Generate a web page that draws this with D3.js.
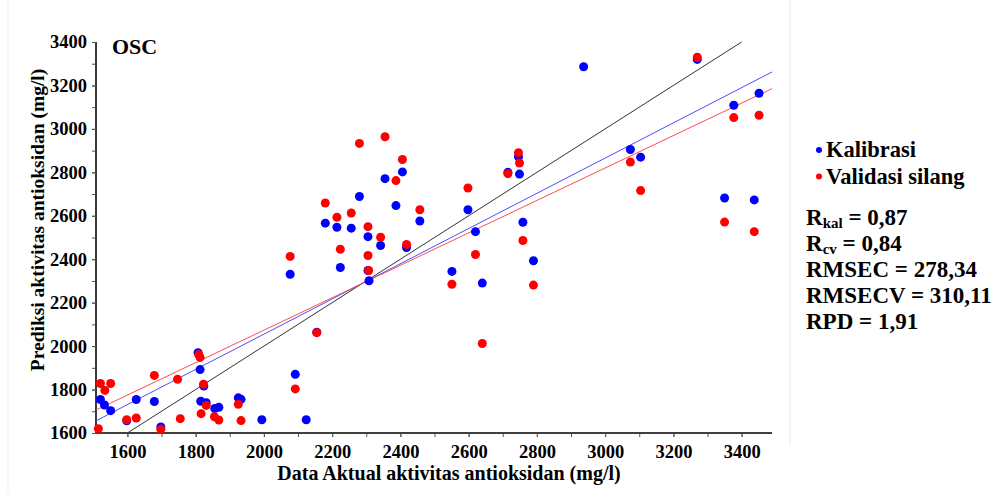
<!DOCTYPE html>
<html><head><meta charset="utf-8">
<script src="https://cdn.jsdelivr.net/npm/d3@7"></script>
<style>body{margin:0;background:#fff;}svg text{font-family:"Liberation Serif","Times New Roman",serif;font-weight:bold;fill:#000;}</style>
</head><body>
<svg id="c" width="995" height="493"></svg>
<script>
// Calibration (Kalibrasi) points: actual, predicted
const calActual = [1521,1533,1551,1598,1626,1679,1698,1807,1813,1824,1815,1831,1856,1868,1925,1933,1994,2124,2092,2077,2155,2180,2214,2256,2224,2280,2305,2305,2308,2342,2355,2387,2406,2418,2457,2551,2598,2620,2640,2715,2746,2749,2759,2790,2937,3270,3074,3104,3377,3451,3350,3437];
const calPred   = [1754,1729,1703,1656,1754,1745,1628,1970,1892,1816,1746,1739,1713,1718,1762,1755,1661,1661,1870,2331,2064,2566,2547,2543,2362,2689,2504,2348,2301,2463,2771,2647,2802,2454,2576,2344,2628,2527,2290,2800,2872,2792,2570,2393,3286,3320,2905,2870,3109,3164,2682,2673];
// Cross validation (Validasi silang) points
const cvActual = [1515,1521,1534,1551,1598,1626,1679,1698,1747,1755,1809,1813,1823,1831,1816,1855,1868,1925,1933,2077,2092,2155,2180,2214,2256,2224,2280,2305,2305,2307,2342,2355,2387,2406,2418,2457,2551,2598,2620,2640,2715,2746,2749,2759,2790,3074,3104,3270,3377,3451,3350,3437];
const cvPred   = [1620,1828,1796,1828,1661,1669,1865,1617,1847,1666,1961,1948,1825,1727,1689,1675,1660,1732,1657,2413,1803,2062,2659,2593,2613,2446,2933,2550,2417,2348,2501,2964,2762,2859,2468,2628,2285,2728,2422,2012,2794,2890,2843,2486,2281,2847,2716,3330,3052,3063,2571,2527];
// Regression lines: [x start, y start, x end, y end]
const lineNames = ["ideal","kal","cv"];
const lineX0 = [1600, 1508, 1508];
const lineY0 = [1600, 1656, 1706];
const lineX1 = [3400, 3489, 3489];
const lineY1 = [3400, 3262, 3185];
const tickValues = [1600,1800,2000,2200,2400,2600,2800,3000,3200,3400];
const minorTicks = d3.range(1600, 3401, 100);
const legendLabels = ["Kalibrasi","Validasi silang"];
const statNames = ["R","R","RMSEC","RMSECV","RPD"];
const statSubs = ["kal","cv","","",""];
const statValues = ["0,87","0,84","278,34","310,11","1,91"];

const svg = d3.select("#c");
const x = d3.scaleLinear().domain([1508, 3489]).range([96, 772]);
const y = d3.scaleLinear().domain([1600, 3400]).range([433, 42]);

// faint picture borders
svg.append("line").attr("x1",8).attr("x2",8).attr("y1",0).attr("y2",493).attr("stroke","#ececec");
svg.append("line").attr("x1",790).attr("x2",790).attr("y1",0).attr("y2",445).attr("stroke","#ececec");

// axes
const xMinor = svg.append("g").attr("transform","translate(0,433)")
  .call(d3.axisBottom(x).tickValues(minorTicks).tickSize(4).tickFormat(""));
const xAxis = svg.append("g").attr("transform","translate(0,433)")
  .call(d3.axisBottom(x).tickValues(tickValues).tickSize(4).tickFormat(d3.format("d")));
const yMinor = svg.append("g").attr("transform","translate(96,0)")
  .call(d3.axisLeft(y).tickValues(minorTicks).tickSize(4).tickFormat(""));
const yAxis = svg.append("g").attr("transform","translate(96,0)")
  .call(d3.axisLeft(y).tickValues(tickValues).tickSize(4).tickPadding(5).tickFormat(d3.format("d")));
[xMinor,xAxis,yMinor,yAxis].forEach(g=>{
  g.attr("font-family",null);
  g.select(".domain").attr("stroke","#333").attr("stroke-width",1.6);
  g.selectAll(".tick line").attr("stroke","#555");
  g.selectAll("text").attr("font-size",18.5).attr("font-weight","bold").attr("fill","#000");
});
xAxis.selectAll("text").attr("y",25).attr("dy",0);
[xMinor,xAxis].forEach(g=>g.select(".domain").attr("d","M96,0H772"));
[yMinor,yAxis].forEach(g=>g.select(".domain").attr("d","M0,42V433"));

// lines
const lineColors = ["#333","#4d4dff","#ff4d4d"];
svg.selectAll("line.fit").data(lineNames).enter().append("line").attr("class","fit")
  .attr("x1",(d,i)=>x(lineX0[i])).attr("y1",(d,i)=>y(lineY0[i]))
  .attr("x2",(d,i)=>x(lineX1[i])).attr("y2",(d,i)=>y(lineY1[i]))
  .attr("stroke",(d,i)=>lineColors[i]).attr("stroke-width",1);

// points
svg.append("g").selectAll("circle").data(calActual).enter().append("circle")
  .attr("cx",d=>x(d)).attr("cy",(d,i)=>y(calPred[i])).attr("r",4.5).attr("fill","#0000ff");
svg.append("g").selectAll("circle").data(cvActual).enter().append("circle")
  .attr("cx",d=>x(d)).attr("cy",(d,i)=>y(cvPred[i])).attr("r",4.5).attr("fill","#ff0000");

// titles
svg.append("text").attr("x",112).attr("y",54).attr("font-size",22).text("OSC");
svg.append("text").attr("x",449).attr("y",480).attr("text-anchor","middle").attr("font-size",20)
  .text("Data Aktual aktivitas antioksidan (mg/l)");
svg.append("text").attr("transform","translate(44,220) rotate(-90)").attr("text-anchor","middle").attr("font-size",19.5)
  .text("Prediksi aktivitas antioksidan (mg/l)");

// legend
const legColors = ["#0000ff","#ff0000"];
legendLabels.forEach((t,i)=>{
  svg.append("circle").attr("cx",819).attr("cy",150+i*26.5).attr("r",3).attr("fill",legColors[i]);
  svg.append("text").attr("x",826).attr("y",157+i*26.5).attr("font-size",22.5).text(t);
});
// stats
statNames.forEach((n,i)=>{
  const t = svg.append("text").attr("x",806).attr("y",225+i*26).attr("font-size",23);
  t.append("tspan").text(n);
  if(statSubs[i]) t.append("tspan").attr("font-size",15).attr("dy",3).text(statSubs[i]);
  t.append("tspan").attr("dy",statSubs[i]?-3:0).text(" = "+statValues[i]);
});
</script>
</body></html>
